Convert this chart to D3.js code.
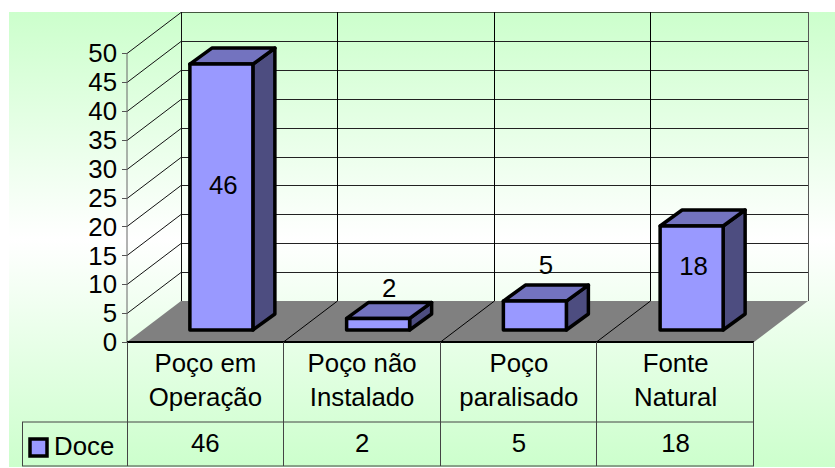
<!DOCTYPE html>
<html><head><meta charset="utf-8">
<script src="https://d3js.org/d3.v7.min.js"></script>
<style>html,body{margin:0;padding:0;background:#fff}svg{display:block}text{font-family:"Liberation Sans",Arial,sans-serif;font-size:25.8px;fill:#000}</style>
</head><body><div id="c"></div>
<script>
const categories=[["Poço em","Operação"],["Poço não","Instalado"],["Poço","paralisado"],["Fonte","Natural"]];
const seriesName="Doce";
const values=[46,2,5,18];
const yTicks=[0,5,10,15,20,25,30,35,40,45,50];

const W=835,H=468,DX=54,DY=-41,left=127,right=754,y0=342,y50=53;
const svg=d3.select("#c").append("svg").attr("width",W).attr("height",H);
const defs=svg.append("defs");
const g=defs.append("linearGradient").attr("id","bg").attr("x1",0).attr("y1",0).attr("x2",0).attr("y2",1);
g.append("stop").attr("offset",0).attr("stop-color","#ccffcc");
g.append("stop").attr("offset",0.5).attr("stop-color","#ffffff");
g.append("stop").attr("offset",1).attr("stop-color","#ccffcc");
svg.append("rect").attr("x",9).attr("y",12).attr("width",W-9).attr("height",455).attr("fill","url(#bg)");

const y=d3.scaleLinear().domain([0,50]).range([y0,y50]);
const x=d3.scaleBand().domain(d3.range(values.length)).range([left,right]).paddingInner(0).paddingOuter(0);
const line=(a,b,c,d,col="#000",w=1)=>svg.append("line").attr("x1",a).attr("y1",b).attr("x2",c).attr("y2",d).attr("stroke",col).attr("stroke-width",w);
const poly=(pts,fill,stroke,w)=>svg.append("polygon").attr("points",pts.map(p=>p.join(",")).join(" ")).attr("fill",fill).attr("stroke",stroke||"none").attr("stroke-width",w||0).attr("stroke-linejoin","round");

// floor
poly([[left,y0],[right,y0],[right+DX,y0+DY],[left+DX,y0+DY]],"#808080");
// grid on walls
yTicks.forEach(t=>{
  const py=Math.round(y(t))+.5;
  if(t>0){
    line(left,py,left+DX,py+DY,"#111");
    line(left+DX,py+DY,right+DX,py+DY,t===50?"#44573f":"#222");
  }
  line(left-5,py,left,py,"#555");
});
line(left,y50,left,y0,"#666");
line(left+DX+.5,y50+DY,left+DX+.5,y0+DY,"#111");
line(right+DX+.5,y50+DY,right+DX+.5,y0+DY,"#555");
values.forEach((v,i)=>{
  if(i===0)return;
  const bx=Math.round(x(i))-.5;
  line(bx+DX,y50+DY,bx+DX,y0+DY,"#000");
  line(bx,y0,bx+DX,y0+DY,"#000");
});
line(left,y0,right,y0,"#000",2);

// bars
const barW=63,bdx=22,bdy=-16,fdx=16,fdy=-12;
const lift={2:15,5:20};
values.forEach((v,i)=>{
  const cx=x(i)+x.bandwidth()/2+fdx;
  const x0=cx-barW/2,x1=cx+barW/2,yb=y0+fdy,yt=y(v)+fdy;
  poly([[x1,yb],[x1+bdx,yb+bdy],[x1+bdx,yt+bdy],[x1,yt]],"#4d4d80","#000",3.5);
  poly([[x0,yt],[x1,yt],[x1+bdx,yt+bdy],[x0+bdx,yt+bdy]],"#7373bf","#000",3.5);
  poly([[x0,yt],[x1,yt],[x1,yb],[x0,yb]],"#9999ff","#000",3.5);
  const big=v>10;
  svg.append("text").attr("x",cx+(big?2:11)).attr("y",big?(yt+yb)/2-12:yt+bdy-lift[v])
    .attr("text-anchor","middle").attr("dy","0.36em").text(v);
});

// axis labels
yTicks.forEach(t=>svg.append("text").attr("x",117).attr("y",y(t)).attr("dy","0.36em").attr("text-anchor","end").text(t));

// data table
const tTop=422,tBot=466,tLeft=22;
line(left+.5,y0,left+.5,tBot,"#444");
line(tLeft,tTop,right,tTop,"#444");
line(tLeft,tBot,right,tBot,"#444");
line(tLeft+.5,tTop,tLeft+.5,tBot,"#444");
values.forEach((v,i)=>{
  const bx=Math.round(x(i)+x.bandwidth())-.5;
  line(bx,y0,bx,tBot,"#444");
  const cx=x(i)+x.bandwidth()/2;
  categories[i].forEach((s,j)=>svg.append("text").attr("x",cx).attr("y",363+j*34).attr("dy","0.36em").attr("text-anchor","middle").text(s));
  svg.append("text").attr("x",cx).attr("y",443).attr("dy","0.36em").attr("text-anchor","middle").text(v);
});
svg.append("rect").attr("x",30).attr("y",439).attr("width",17).attr("height",17).attr("fill","#9999ff").attr("stroke","#000").attr("stroke-width",3.5);
svg.append("text").attr("x",54).attr("y",446).attr("dy","0.36em").text(seriesName);
</script></body></html>
